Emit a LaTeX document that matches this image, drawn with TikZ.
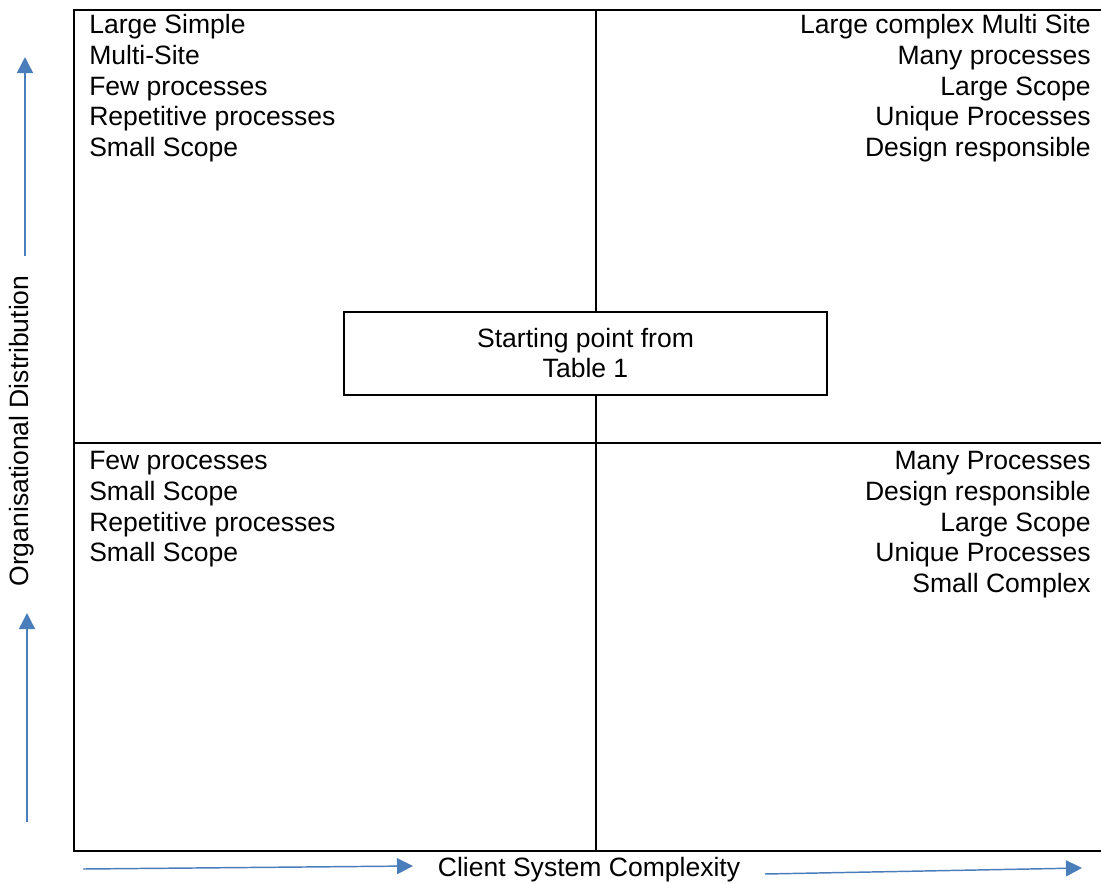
\documentclass[tikz,border=0pt]{standalone}
\usepackage{fontspec}
\setmainfont{Liberation Sans}
\usepackage{xcolor}
\usetikzlibrary{arrows.meta, positioning}
\definecolor{axisblue}{RGB}{74, 126, 187}

\begin{document}
\begin{tikzpicture}[x=0.75pt, y=-0.75pt,
  txt/.style={inner sep=0pt,
    font=\fontsize{19.9pt}{23.1pt}\selectfont},
  frame/.style={draw=black, line width=1.4pt},
  startbox/.style={rectangle, draw=black, line width=1.2pt, fill=white,
    font=\fontsize{19.9pt}{22.5pt}\selectfont,
    minimum width=362pt, minimum height=62pt,
    align=center, inner sep=0pt},
  arr/.style={-{Triangle[length=12pt, width=12pt]}, line width=1.1pt, color=axisblue}
]
\useasboundingbox (0,0) rectangle (1101,883);
% Quadrant frame and cross
\draw[frame] (74,10) rectangle (1103,851);
\draw[frame] (596,10) -- (596,851);
\draw[frame] (74,443) -- (1103,443);
% Quadrant texts
\node[txt, anchor=north west, align=left] at (89,14) (tl)
  {Large Simple\\Multi-Site\\Few processes\\Repetitive processes\\Small Scope};
\node[txt, anchor=north east, align=right] at (1091,14) (tr)
  {Large complex Multi Site\\Many processes\\Large Scope\\Unique Processes\\Design responsible};
\node[txt, anchor=north west, align=left] at (89,451) (bl)
  {Few processes\\Small Scope\\Repetitive processes\\Small Scope};
\node[txt, anchor=north east, align=right] at (1091,451) (br)
  {Many Processes\\Design responsible\\Large Scope\\Unique Processes\\Small Complex};
% Centre box
\node[startbox] at (585.5,353.5) (start) {Starting point from\\Table 1};
% Axis labels
\node[txt, rotate=90] at (22,431) (yaxis) {Organisational Distribution};
\node[txt] at (589,870) (xaxis) {Client System Complexity};
% Axis arrows
\coordinate (yup0) at (25,256);
\coordinate (yup1) at (25,57);
\coordinate (ylo0) at (27,822);
\coordinate (ylo1) at (27,613);
\coordinate (xle0) at (83,869);
\coordinate (xle1) at (413,866);
\coordinate (xri0) at (765,874);
\coordinate (xri1) at (1082,868);
\draw[arr] (yup0) -- (yup1);
\draw[arr] (ylo0) -- (ylo1);
\draw[arr] (xle0) -- (xle1);
\draw[arr] (xri0) -- (xri1);
\end{tikzpicture}
\end{document}
